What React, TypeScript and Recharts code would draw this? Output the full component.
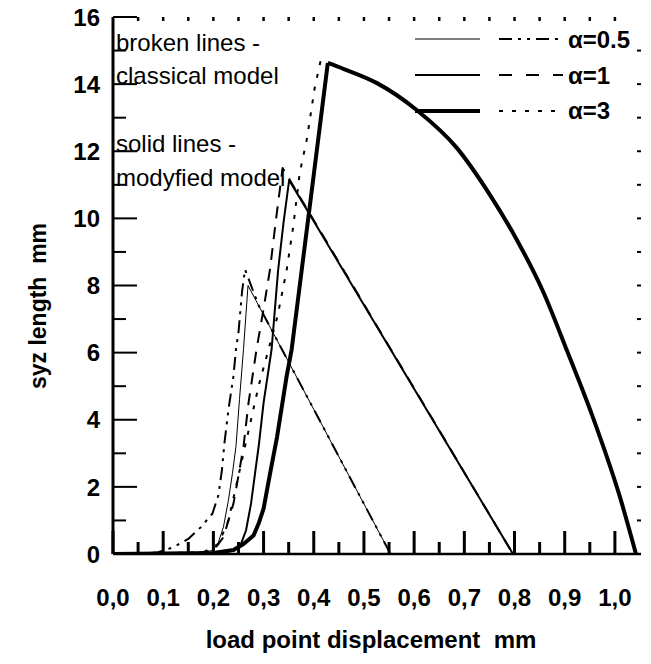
import React from 'react';
import { LineChart, Line, XAxis, YAxis, ReferenceLine } from 'recharts';

const alpha05Modified: number[][] = [
  [0, 0], [0.1, 0], [0.18, 0.03], [0.2, 0.12], [0.21, 0.35], [0.22, 0.8], [0.23, 1.6],
  [0.238, 2.4], [0.245, 3.2], [0.252, 4.6], [0.26, 6.1], [0.269, 8.0], [0.553, 0],
];
const alpha05Classical: number[][] = [
  [0, 0], [0.06, 0.01], [0.09, 0.05], [0.12, 0.2], [0.15, 0.45], [0.175, 0.8], [0.198, 1.2],
  [0.21, 1.75], [0.217, 2.5], [0.222, 3.3], [0.23, 4.3], [0.24, 5.3], [0.245, 6.1], [0.25, 6.6],
  [0.257, 7.8], [0.263, 8.48], [0.29, 7.41], [0.553, 0],
];
const alpha1Modified: number[][] = [
  [0, 0], [0.2, 0.02], [0.24, 0.1], [0.255, 0.3], [0.265, 0.7], [0.275, 1.5], [0.283, 2.4],
  [0.291, 3.3], [0.3, 4.5], [0.316, 6.1], [0.329, 8.46], [0.34, 9.9], [0.351, 11.14], [0.797, 0],
];
const alpha1Classical: number[][] = [
  [0, 0], [0.15, 0.01], [0.2, 0.1], [0.22, 0.5], [0.24, 1.5], [0.252, 2.5], [0.26, 3.2],
  [0.27, 4.5], [0.286, 6.1], [0.3, 7.3], [0.313, 8.5], [0.325, 10.0], [0.338, 11.5], [0.797, 0],
];
const alpha3ModifiedRise: number[][] = [
  [0, 0], [0.2, 0.03], [0.24, 0.12], [0.26, 0.3], [0.28, 0.55], [0.29, 0.9], [0.3, 1.35],
  [0.313, 2.4], [0.327, 3.5], [0.346, 5.3], [0.356, 6.1], [0.376, 8.46], [0.4, 11.3],
  [0.428, 14.63],
];
const alpha3ClassicalRise: number[][] = [
  [0, 0], [0.18, 0.05], [0.21, 0.3], [0.23, 1.0], [0.245, 2.0], [0.26, 3.0], [0.275, 4.0],
  [0.29, 5.0], [0.31, 6.1], [0.328, 7.1], [0.346, 8.46], [0.359, 9.75], [0.372, 11.35],
  [0.386, 12.34], [0.402, 13.9], [0.414, 14.72], [0.428, 14.63],
];
const alpha3Fall: number[][] = [
  [0.428, 14.63], [0.46, 14.45], [0.526, 14.03], [0.605, 13.23], [0.685, 12.1], [0.751, 10.7],
  [0.805, 9.35], [0.856, 7.85], [0.904, 6.08], [0.956, 4.08], [1.01, 1.7], [1.042, 0],
];

const xMajorTicks = [0, 0.1, 0.2, 0.3, 0.4, 0.5, 0.6, 0.7, 0.8, 0.9, 1.0];
const xTickLabels = ['0,0', '0,1', '0,2', '0,3', '0,4', '0,5', '0,6', '0,7', '0,8', '0,9', '1,0'];
const xMinorTicks = [0.05, 0.15, 0.25, 0.35, 0.45, 0.55, 0.65, 0.75, 0.85, 0.95];
const xTopTicks = [0.05, 0.1, 0.15, 0.2, 0.25, 0.3, 0.35, 0.4, 0.45, 0.5, 0.55, 0.6, 0.65, 0.7, 0.75, 0.8, 0.85, 0.9, 0.95, 1.0];
const yMajorTicks = [0, 2, 4, 6, 8, 10, 12, 14, 16];
const yTickLabels = ['0', '2', '4', '6', '8', '10', '12', '14', '16'];
const yMinorTicks = [1, 3, 5, 7, 9, 11, 13, 15];
const yRightTicks = [1, 2, 3, 4, 5, 6, 7, 8, 9, 10, 11, 12, 13, 14, 15];

const xDomain = [0, 1.052];
const yDomain = [0, 16];
const topTickLen = 0.12; // y units
const rightTickLen = 0.008; // x units

const xTitle = 'load point displacement  mm';
const yTitle = 'syz length  mm';
const noteLines = ['broken lines -', 'classical model', 'solid lines -', 'modyfied model'];
const legendLabels = ['\u03B1=0.5', '\u03B1=1', '\u03B1=3'];

const toPts = (arr: number[][]) => arr.map(([x, y]) => ({ x, y }));

const FONT = '"Liberation Sans", Arial, sans-serif';
const INK = '#000';
const near = (a: number, b: number) => Math.abs(a - b) < 1e-6;

const BottomTick = (props: any) => {
  const { payload } = props;
  const x = Number(props.x);
  const y = Number(props.y);
  const v = payload.value;
  const mi = xMajorTicks.findIndex((t) => near(t, v));
  const major = mi >= 0;
  return (
    <g>
      <path d={`M${x},${y}L${x},${y - (major ? 23 : 12)}`} stroke={INK} strokeWidth={3} fill="none" />
      {major && (
        <text x={x} y={y + 52} textAnchor="middle" fontFamily={FONT} fontWeight="bold" fontSize={24} fill={INK}>
          {xTickLabels[mi]}
        </text>
      )}
    </g>
  );
};

const LeftTick = (props: any) => {
  const { payload } = props;
  const x = Number(props.x);
  const y = Number(props.y);
  const v = payload.value;
  const mi = yMajorTicks.findIndex((t) => near(t, v));
  const major = mi >= 0;
  const len = major ? 24 : 13;
  return (
    <g>
      <rect x={x} y={y - 1} width={len} height={2} fill={INK} stroke="none" />
      {major && (
        <text x={x - 13} y={y} dy="0.36em" textAnchor="end" fontFamily={FONT} fontWeight="bold" fontSize={24} fill={INK}>
          {yTickLabels[mi]}
        </text>
      )}
    </g>
  );
};

const series = [
  { key: 'a05m', data: alpha05Modified, width: 1, dash: undefined, type: 'linear' },
  { key: 'a05c', data: alpha05Classical, width: 2, dash: '13 6 3 6 3 6', type: 'linear' },
  { key: 'a1m', data: alpha1Modified, width: 2, dash: undefined, type: 'linear' },
  { key: 'a1c', data: alpha1Classical, width: 2, dash: '12 9', type: 'linear' },
  { key: 'a3m', data: alpha3ModifiedRise, width: 4, dash: undefined, type: 'linear' },
  { key: 'a3c', data: alpha3ClassicalRise, width: 2, dash: '4 9', type: 'linear' },
  { key: 'a3f', data: alpha3Fall, width: 4, dash: undefined, type: 'monotone' },
];

export default function App() {
  const legendRows = [
    { solidW: 1, dash: '13 6 3 6 3 6', y: 39, ty: 48 },
    { solidW: 2, dash: '13 14', y: 75, ty: 84 },
    { solidW: 4, dash: '4 9', y: 111, ty: 119 },
  ];
  return (
    <div style={{ position: 'absolute', left: 0, top: 0, width: 651, height: 664, background: '#fff' }}>
      <LineChart width={651} height={664} margin={{ top: 17, right: 10, left: 0, bottom: 0 }}>
        <XAxis
          xAxisId="b"
          dataKey="x"
          type="number"
          domain={xDomain}
          allowDataOverflow
          ticks={[...xMajorTicks, ...xMinorTicks].sort((a, b) => a - b)}
          interval={0}
          height={110}
          tickSize={0}
          tickMargin={0}
          tickLine={false}
          axisLine={{ stroke: INK, strokeWidth: 2.5 }}
          tick={<BottomTick />}
        />
        <XAxis
          xAxisId="t"
          orientation="top"
          dataKey="x"
          type="number"
          domain={xDomain}
          allowDataOverflow
          height={0}
          tickLine={false}
          axisLine={{ stroke: INK, strokeWidth: 2 }}
          tick={false}
        />
        <YAxis
          yAxisId="l"
          type="number"
          domain={yDomain}
          allowDataOverflow
          ticks={[...yMajorTicks, ...yMinorTicks].sort((a, b) => a - b)}
          interval={0}
          width={113}
          tickSize={0}
          tickMargin={0}
          tickLine={false}
          axisLine={{ stroke: INK, strokeWidth: 3 }}
          tick={<LeftTick />}
        />
        <YAxis
          yAxisId="r"
          orientation="right"
          type="number"
          domain={yDomain}
          allowDataOverflow
          width={0}
          tickLine={false}
          axisLine={{ stroke: INK, strokeWidth: 2 }}
          tick={false}
        />
        {xTopTicks.map((v) => (
          <ReferenceLine
            key={`t${v}`}
            xAxisId="b"
            yAxisId="l"
            segment={[{ x: v, y: yDomain[1] }, { x: v, y: yDomain[1] - topTickLen }]}
            stroke={INK}
            strokeWidth={2.5}
            ifOverflow="visible"
          />
        ))}
        {yRightTicks.map((v) => (
          <ReferenceLine
            key={`r${v}`}
            xAxisId="b"
            yAxisId="l"
            segment={[{ x: xDomain[1], y: v }, { x: xDomain[1] - rightTickLen, y: v }]}
            stroke={INK}
            strokeWidth={2}
            ifOverflow="visible"
          />
        ))}
        {series.map((s) => (
          <Line
            key={s.key}
            xAxisId="b"
            yAxisId="l"
            data={toPts(s.data)}
            dataKey="y"
            type={s.type as any}
            stroke={INK}
            strokeWidth={s.width}
            strokeDasharray={s.dash}
            dot={false}
            activeDot={false}
            isAnimationActive={false}
            strokeLinejoin="round"
          />
        ))}
      </LineChart>
      <svg width={651} height={664} style={{ position: 'absolute', left: 0, top: 0, pointerEvents: 'none' }}>
        <text x={371} y={648} textAnchor="middle" fontFamily={FONT} fontWeight="bold" fontSize={24} fill={INK} style={{ whiteSpace: 'pre' }}>
          {xTitle}
        </text>
        <text
          x={38}
          y={306}
          transform="rotate(-90 38 306)"
          textAnchor="middle"
          dominantBaseline="central"
          fontFamily={FONT}
          fontWeight="bold"
          fontSize={23}
          fill={INK}
          style={{ whiteSpace: 'pre' }}
        >
          {yTitle}
        </text>
        <text x={116} y={51} fontFamily={FONT} fontSize={24} fill={INK}>{noteLines[0]}</text>
        <text x={116} y={84} fontFamily={FONT} fontSize={24} fill={INK}>{noteLines[1]}</text>
        <text x={116} y={152} fontFamily={FONT} fontSize={24} fill={INK}>{noteLines[2]}</text>
        <text x={116} y={186} fontFamily={FONT} fontSize={24} fill={INK}>{noteLines[3]}</text>
        {legendRows.map((r, i) => (
          <g key={i}>
            <line x1={415} y1={r.y} x2={480} y2={r.y} stroke={INK} strokeWidth={r.solidW} />
            <line x1={499} y1={r.y} x2={563} y2={r.y} stroke={INK} strokeWidth={2} strokeDasharray={r.dash} />
            <text x={568} y={r.ty} fontFamily={FONT} fontWeight="bold" fontSize={24} fill={INK}>
              {legendLabels[i]}
            </text>
          </g>
        ))}
      </svg>
    </div>
  );
}
